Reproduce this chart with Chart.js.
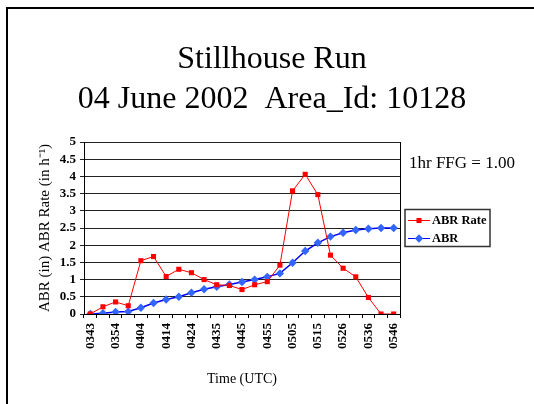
<!DOCTYPE html>
<html>
<head>
<meta charset="utf-8">
<script src="https://cdn.jsdelivr.net/npm/chart.js@4/dist/chart.umd.min.js"></script>
<style>
  html, body { margin: 0; padding: 0; background: #fff; }
  #wrap { width: 534px; height: 404px; }
</style>
</head>
<body>
<div id="wrap"><canvas id="grafico" width="534" height="404"></canvas></div>
<script>
// times (UTC), every other one is printed on the axis
const horas = ['0343', '0348', '0354', '0359', '0404', '0409', '0414', '0419', '0424', '0430',
  '0435', '0440', '0445', '0450', '0455', '0500', '0505', '0510', '0515', '0521',
  '0526', '0531', '0536', '0541', '0546'];
const abrRate = [0, 0.21, 0.35, 0.24, 1.55, 1.67, 1.09, 1.30, 1.20, 1.00,
  0.85, 0.83, 0.71, 0.85, 0.94, 1.42, 3.58, 4.06, 3.47, 1.71,
  1.33, 1.08, 0.48, 0, 0];
const abr = [0, 0.02, 0.06, 0.07, 0.18, 0.32, 0.42, 0.50, 0.62, 0.72,
  0.79, 0.86, 0.93, 1.00, 1.08, 1.18, 1.49, 1.83, 2.07, 2.25,
  2.36, 2.44, 2.48, 2.50, 2.50];
const ticksY = [0, 0.5, 1, 1.5, 2, 2.5, 3, 3.5, 4, 4.5, 5];
const titulo = ['Stillhouse Run', '04 June 2002  Area_Id: 10128'];

const serif = 'Liberation Serif, Times New Roman, serif';

// marco de la pagina, titulo, leyenda y texto FFG
const extras = {
  id: 'extras',
  beforeDraw(chart) {
    const c = chart.ctx;
    c.save();
    c.fillStyle = '#fff';
    c.fillRect(0, 0, chart.width, chart.height);
    c.restore();
  },
  afterDraw(chart) {
    const c = chart.ctx;
    const a = chart.chartArea;
    c.save();
    // borde derecho del area
    c.strokeStyle = '#000';
    c.lineWidth = 1;
    c.beginPath();
    c.moveTo(Math.round(a.right) + 0.5, a.top);
    c.lineTo(Math.round(a.right) + 0.5, a.bottom);
    c.stroke();

    // marco
    c.lineWidth = 2;
    c.beginPath();
    c.moveTo(7, 404);
    c.lineTo(7, 8);
    c.lineTo(534, 8);
    c.stroke();

    // titulo
    c.fillStyle = '#000';
    c.textAlign = 'center';
    c.textBaseline = 'alphabetic';
    c.font = '32px ' + serif;
    c.fillText(titulo[0], 272, 68);
    c.fillText(titulo[1], 272, 108);

    c.font = '17px ' + serif;
    c.textBaseline = 'middle';
    c.textAlign = 'left';
    c.fillText('1hr FFG = 1.00', 409, 164);

    // leyenda
    c.lineWidth = 1.5;
    c.strokeStyle = '#333';
    c.strokeRect(405, 209.5, 85, 37);
    const filas = [
      { txt: 'ABR Rate', color: '#ff0000', punto: '#ff0000', estilo: 'rect', y: 220.5 },
      { txt: 'ABR', color: '#0000ff', punto: '#3366ff', estilo: 'rectRot', y: 238.5 }
    ];
    filas.forEach(f => {
      c.strokeStyle = f.color;
      c.lineWidth = 1;
      c.beginPath();
      c.moveTo(408, f.y);
      c.lineTo(430, f.y);
      c.stroke();
      c.fillStyle = f.punto;
      Chart.helpers.drawPoint(c, { pointStyle: f.estilo, radius: f.estilo === 'rect' ? 3.6 : 4.2, borderWidth: 0 }, 419, f.y);
      c.fillStyle = '#000';
      c.font = 'bold 12.5px ' + serif;
      c.fillText(f.txt, 432, f.y + 0.5);
    });
    c.restore();
  }
};

new Chart(document.getElementById('grafico'), {
  type: 'line',
  data: {
    labels: horas,
    datasets: [{
      label: 'ABR Rate',
      data: abrRate,
      borderColor: '#ff0000',
      backgroundColor: '#ff0000',
      borderWidth: 1,
      pointStyle: 'rect',
      pointRadius: 3.6,
      pointBorderWidth: 0,
      tension: 0
    }, {
      label: 'ABR',
      data: abr,
      borderColor: '#0000ff',
      backgroundColor: '#3366ff',
      borderWidth: 1.5,
      pointStyle: 'rectRot',
      pointRadius: 4.2,
      pointBorderWidth: 0,
      tension: 0
    }]
  },
  options: {
    responsive: false,
    animation: false,
    layout: { padding: { left: 36, right: 134, top: 142, bottom: 0 } },
    plugins: {
      legend: { display: false },
      tooltip: { enabled: false },
      title: { display: false }
    },
    scales: {
      x: {
        offset: true,
        afterFit(s) { s.height = 90; },
        grid: { display: true, drawOnChartArea: false, drawTicks: true, tickLength: 4, offset: true, color: '#000' },
        border: { color: '#000', width: 1 },
        ticks: {
          autoSkip: false,
          maxRotation: 90,
          minRotation: 90,
          padding: 5,
          color: '#000',
          font: { family: serif, size: 13, weight: 'bold' },
          callback(v, i) { return i % 2 === 0 ? horas[i] : ''; }
        },
        title: {
          display: true,
          text: 'Time (UTC)',
          color: '#000',
          font: { family: serif, size: 14 },
          padding: { top: 0, bottom: 16 }
        }
      },
      y: {
        min: 0,
        max: 5,
        afterFit(s) { s.width = 48; },
        afterBuildTicks(s) { s.ticks = ticksY.map(v => ({ value: v })); },
        grid: { color: '#222', lineWidth: 1, tickLength: 4, drawTicks: true },
        border: { color: '#000', width: 1 },
        ticks: {
          autoSkip: false,
          padding: 4,
          color: '#000',
          font: { family: serif, size: 13, weight: 'bold' },
          callback(v) { return String(v); }
        },
        title: {
          display: true,
          text: 'ABR (in) ABR Rate (in h⁻¹)',
          color: '#000',
          font: { family: serif, size: 15 },
          padding: { top: 0, bottom: 0 }
        }
      }
    }
  },
  plugins: [extras]
});
</script>
</body>
</html>
